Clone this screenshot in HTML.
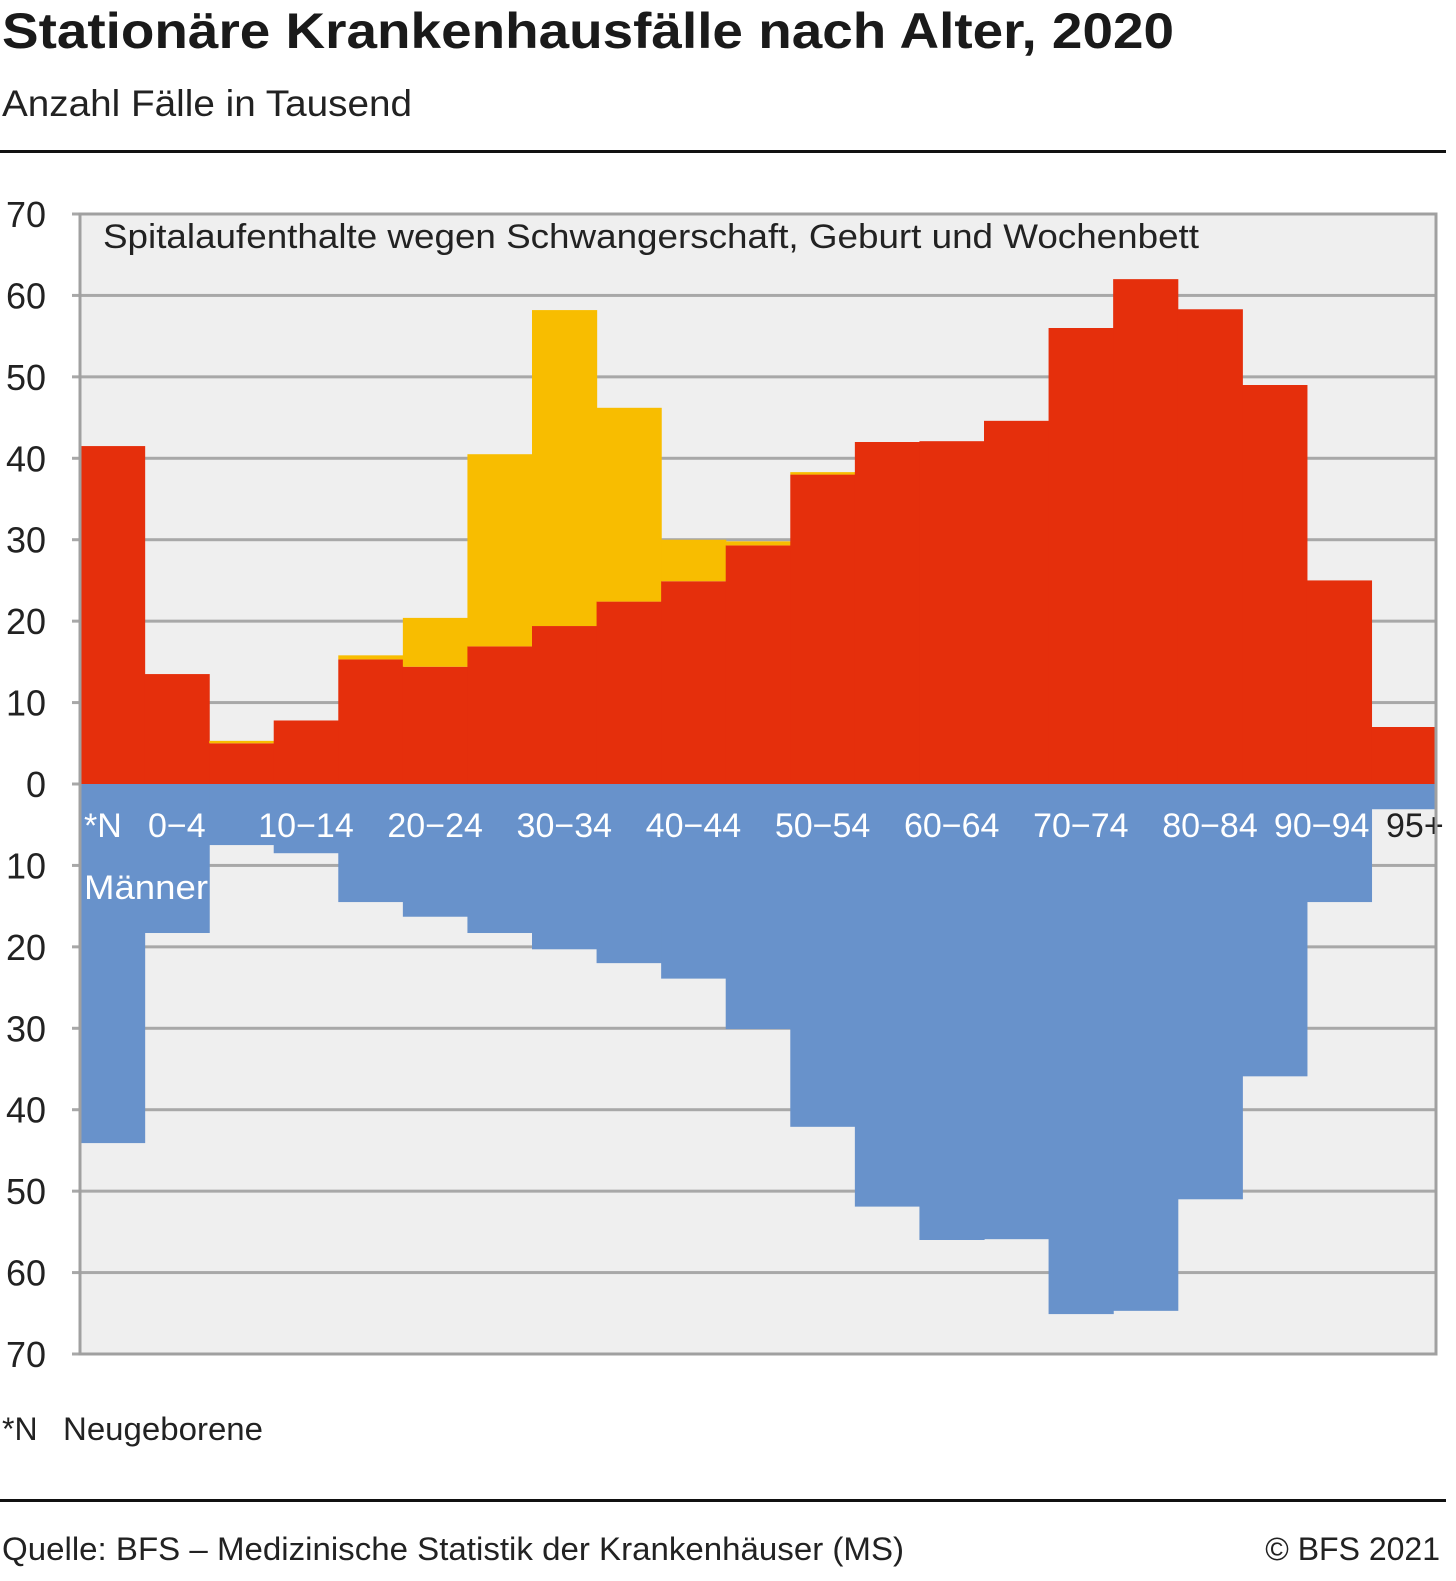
<!DOCTYPE html>
<html><head><meta charset="utf-8"><style>
html,body{margin:0;padding:0;background:#fff;}
svg{display:block;font-family:"Liberation Sans",sans-serif;}
</style></head><body>
<svg id="chart" width="1456" height="1581" viewBox="0 0 1456 1581">
<text x="2" y="48" font-size="50" font-weight="bold" fill="#1a1a1a" textLength="1172" lengthAdjust="spacingAndGlyphs">Stationäre Krankenhausfälle nach Alter, 2020</text>
<text x="2" y="116" font-size="37" fill="#222" textLength="410" lengthAdjust="spacingAndGlyphs">Anzahl Fälle in Tausend</text>
<rect x="0" y="150" width="1446" height="3" fill="#111"/>
<rect x="80" y="214" width="1356" height="1140" fill="#efefef"/>
<g id="grid"></g>
<g id="bars"></g>
<g id="labels"></g>
<rect x="80" y="214" width="1356" height="1140" fill="none" stroke="#a0a0a0" stroke-width="3"/>
<text x="103" y="248" font-size="34" fill="#222" textLength="1096" lengthAdjust="spacingAndGlyphs">Spitalaufenthalte wegen Schwangerschaft, Geburt und Wochenbett</text>
<text x="84" y="899" font-size="34" fill="#fff" textLength="124" lengthAdjust="spacingAndGlyphs">Männer</text>
<text x="2" y="1440" font-size="32" fill="#222">*N</text>
<text x="63" y="1440" font-size="32" fill="#222" textLength="200" lengthAdjust="spacingAndGlyphs">Neugeborene</text>
<rect x="0" y="1499" width="1446" height="3" fill="#111"/>
<text x="2" y="1560" font-size="32" fill="#222" textLength="902" lengthAdjust="spacingAndGlyphs">Quelle: BFS – Medizinische Statistik der Krankenhäuser (MS)</text>
<text x="1440" y="1560" font-size="32" fill="#222" text-anchor="end">© BFS 2021</text>
</svg>
<script>
const categories = ["*N","0−4","5−9","10−14","15−19","20−24","25−29","30−34","35−39","40−44","45−49","50−54","55−59","60−64","65−69","70−74","75−79","80−84","85−89","90−94","95+"];
const women = [41.5,13.5,5.0,7.8,15.3,14.4,16.9,19.4,22.4,24.9,29.3,38.0,42.0,42.1,44.6,56.0,62.0,58.3,49.0,25.0,7.0];
const pregnancy = [0,0,0.3,0,0.5,6.0,23.6,38.8,23.8,5.1,0.5,0.3,0,0,0,0,0,0,0,0,0];
const men = [44.1,18.3,7.5,8.5,14.5,16.3,18.3,20.3,22.0,23.9,30.1,42.1,51.9,56.0,55.9,65.1,64.7,51.0,35.9,14.5,3.1];
const yTicks = [70,60,50,40,30,20,10,0,10,20,30,40,50,60,70];
const yTickValues = [70,60,50,40,30,20,10,0,-10,-20,-30,-40,-50,-60,-70];
const shownLabels = ["*N","0−4","10−14","20−24","30−34","40−44","50−54","60−64","70−74","80−84","90−94","95+"];

const NS="http://www.w3.org/2000/svg";
const X0=80,X1=1436,Y0=784,PX=(784-214)/70;
const bw=(X1-X0)/categories.length;
const y=v=>Y0-v*PX;
const x=i=>X0+i*bw;
function mk(tag,attrs,parent){const e=document.createElementNS(NS,tag);for(const k in attrs)e.setAttribute(k,attrs[k]);parent.appendChild(e);return e;}
const grid=document.getElementById('grid'),bars=document.getElementById('bars'),labels=document.getElementById('labels');
yTickValues.forEach((v,i)=>{
  const l=mk('rect',{x:72,y:y(v)-1.5,width:X1-72,height:3,fill:'#a8a8a8'},grid);
  
  
  const t=mk('text',{x:46,y:y(v)+13,'font-size':36,'text-anchor':'end',fill:'#222'},grid);
  t.textContent=yTicks[i];
  
  
});
categories.forEach((c,i)=>{
  const r=mk('rect',{x:x(i),y:y(women[i]),width:bw+0.6,height:women[i]*PX,fill:'#e52f0c'},bars);
  
  
  if(pregnancy[i]>0){
    const p=mk('rect',{x:x(i),y:y(women[i]+pregnancy[i]),width:bw+0.6,height:pregnancy[i]*PX,fill:'#f8bd00'},bars);
    
    
  }
  const m=mk('rect',{x:x(i),y:Y0,width:bw+0.6,height:men[i]*PX,fill:'#6892cb'},bars);
  
  
});
categories.forEach((c,i)=>{
  if(!shownLabels.includes(c))return;
  let cx=x(i)+bw/2, anchor='middle', col='#fff';
  if(i===0){cx=x(i)+4;anchor='start';}
  if(c==='90−94'){cx=x(i)+bw-2;anchor='end';}
  if(c==='95+'){cx=1386;anchor='start';col='#222';}
  const t=mk('text',{x:cx,y:837,'font-size':34,'text-anchor':anchor,fill:col},labels);
  t.textContent=c;
  
  
});
</script>
</body></html>
